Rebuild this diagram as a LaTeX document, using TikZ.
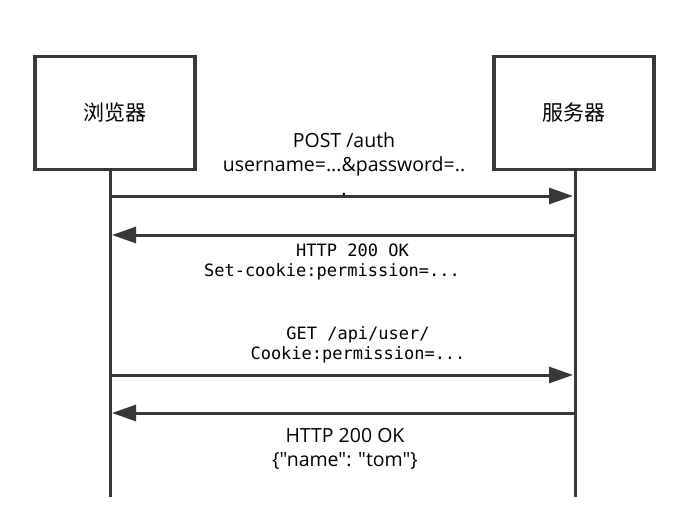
\documentclass[tikz,border=0pt]{standalone}
\usepackage{fontspec}
\setmainfont{Open Sans}[Ligatures=TeXOff]
\setmonofont{DejaVu Sans Mono}
\newfontfamily\cjk{Noto Sans CJK SC}
\usetikzlibrary{arrows.meta, positioning}

\begin{document}
\begin{tikzpicture}[x=1pt, y=-1pt,
  actor/.style={draw=black!78, line width=3.2pt, minimum width=160pt, minimum height=113pt,
                font=\cjk\fontsize{21}{21}\selectfont},
  life/.style={draw=black!78, line width=3pt},
  msg/.style={draw=black!78, line width=3pt, shorten >=2pt,
              -{Triangle[length=24pt, width=16pt]}},
  lbl/.style={align=center, font=\fontsize{19.5}{24}\selectfont},
  mono/.style={align=center, font=\ttfamily\fontsize{17}{20}\selectfont}]
  \useasboundingbox (0,0) rectangle (700,525);
  \node[actor] (browser) at (115,113) {浏览器};
  \node[actor] (server) at (574,113) {服务器};

  % lifelines
  \coordinate (bEnd) at (110,497);
  \coordinate (sEnd) at (575,497);
  \draw[life] (browser.south -| bEnd) -- (bEnd);
  \draw[life] (server.south -| sEnd) -- (sEnd);

  \foreach \y [count=\i] in {196,235,375,413} {
    \coordinate (b\i) at (110,\y);
    \coordinate (s\i) at (575,\y);
  }

  % messages
  \draw[msg] (b1) -- (s1);
  \draw[msg] (s2) -- (b2);
  \draw[msg] (b3) -- (s3);
  \draw[msg] (s4) -- (b4);

  \node[lbl] (login) at (344,164) {POST /auth\\username=...\&password=..\\.};
  \node[mono] (setck) at (332,262) {\phantom{xxxx}HTTP 200 OK\\Set-cookie:permission=...};
  \node[mono] (getusr) at (358,345) {GET /api/user/\\Cookie:permission=...};
  \node[lbl] (reply) at (345,449) {HTTP 200 OK\\\{"name": "tom"\}};
\end{tikzpicture}
\end{document}
